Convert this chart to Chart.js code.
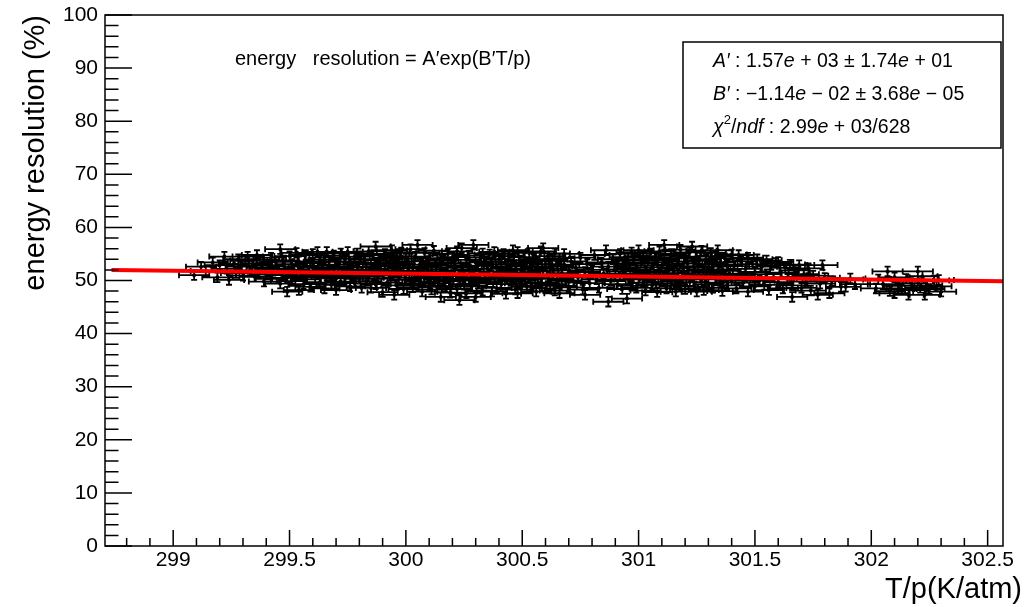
<!DOCTYPE html>
<html>
<head>
<meta charset="utf-8">
<script src="https://cdn.jsdelivr.net/npm/chart.js@4.4.1/dist/chart.umd.min.js"></script>
<style>
  html, body { margin: 0; padding: 0; background: #fff; }
  #wrap { width: 1030px; height: 607px; }
</style>
</head>
<body>
<div id="wrap"><canvas id="chart" width="1030" height="607"></canvas></div>
<script>
// measured points: [T/p (K/atm), energy resolution (%)]
const points = [
  [299.09,51.0],[299.12,52.6],[299.17,53.4],[299.19,50.6],[299.14,51.8],[299.2,52.9],
  [299.22,54.5],[299.24,50.1],[299.23,52.2],[299.26,53.1],[299.27,51.4],[299.28,54.0],[299.29,52.6],[299.3,50.9],
  [299.31,53.7],[299.32,54.5],[299.33,51.9],[299.34,52.8],[299.35,50.7],[299.36,54.8],[299.36,53.2],[299.37,51.5],
  [299.38,52.4],[299.39,49.8],[299.39,53.9],[299.4,51.1],[299.41,52.9],[299.42,54.3],[299.42,50.3],[299.43,51.8],[299.44,53.5],
  [299.45,52.2],[299.46,55.9],[299.46,49.4],[299.47,51.0],[299.47,53.8],[299.48,52.6],[299.49,47.9],[299.49,50.5],
  [299.5,54.6],[299.5,51.6],[299.51,53.1],[299.51,49.9],[299.52,52.0],[299.53,55.2],[299.53,50.8],[299.54,48.2],
  [299.54,53.6],[299.55,51.3],[299.56,52.7],[299.56,49.3],[299.57,54.8],[299.57,50.2],[299.58,51.9],[299.59,53.3],
  [299.59,48.8],[299.6,52.4],[299.6,55.0],[299.61,50.6],[299.62,55.4],[299.62,51.2],[299.63,53.9],[299.63,49.6],
  [299.64,52.8],[299.65,48.5],[299.65,54.3],[299.66,55.4],[299.66,50.9],[299.67,52.1],[299.67,53.5],[299.68,49.2],
  [299.69,51.7],[299.69,54.7],[299.7,48.2],[299.7,50.4],[299.71,53.0],[299.71,52.3],[299.72,55.1],[299.72,49.8],
  [299.73,51.4],[299.74,54.1],[299.74,50.7],[299.75,55.4],[299.75,52.6],[299.76,48.9],[299.76,53.6],[299.77,51.0],
  [299.78,49.5],[299.78,54.5],[299.79,55.1],[299.79,52.0],[299.8,50.3],[299.8,53.3],
  [299.81,51.6],[299.81,48.6],[299.82,54.0],[299.83,52.5],[299.83,49.9],[299.84,55.5],[299.84,50.8],[299.85,48.6],
  [299.85,53.1],[299.86,51.9],[299.86,54.8],[299.87,56.4],[299.87,49.3],[299.88,52.7],[299.88,50.4],[299.89,53.8],
  [299.9,51.2],[299.9,47.8],[299.91,55.0],[299.91,52.2],[299.92,49.6],[299.92,54.3],[299.93,50.9],[299.93,53.4],
  [299.94,55.7],[299.95,47.3],[299.95,51.7],[299.95,52.9],[299.96,49.1],[299.96,54.6],[299.97,50.5],[299.97,53.1],
  [299.98,51.4],[299.98,55.3],[299.99,48.4],[299.99,52.5],[300.0,54.1],[300.0,50.1],[300.01,51.8],[300.01,53.6],
  [300.02,49.4],[300.02,55.9],[300.03,52.3],[300.03,48.7],[300.04,50.9],[300.04,54.5],[300.05,56.7],[300.05,51.5],
  [300.06,53.0],[300.06,49.8],[300.07,52.6],[300.07,47.9],[300.08,55.2],[300.08,50.4],[300.09,53.7],[300.09,51.1],
  [300.1,49.1],[300.1,54.2],[300.11,52.0],[300.11,48.3],[300.12,50.7],[300.12,55.6],[300.13,53.3],[300.13,51.6],
  [300.14,49.5],[300.15,46.9],[300.15,54.0],[300.15,52.4],[300.16,50.2],[300.16,53.8],[300.17,48.8],[300.17,51.3],
  [300.18,55.0],[300.18,52.8],[300.19,49.9],[300.19,47.7],[300.2,54.4],[300.2,50.8],[300.21,51.9],[300.21,53.2],
  [300.22,48.4],[300.22,55.5],[300.23,46.3],[300.23,50.3],[300.24,56.1],[300.24,52.5],[300.25,51.0],[300.25,49.2],
  [300.26,53.9],[300.26,47.6],[300.27,52.1],[300.27,54.7],[300.28,50.6],[300.28,48.9],[300.29,56.7],[300.29,51.7],
  [300.3,46.9],[300.3,53.4],[300.3,50.0],
  [300.31,52.8],[300.31,49.4],[300.32,54.3],[300.32,51.3],[300.33,48.1],[300.33,55.1],[300.34,50.6],[300.34,53.6],
  [300.35,52.2],[300.35,49.7],[300.36,54.9],[300.36,51.0],[300.37,47.9],[300.37,53.1],[300.38,50.3],[300.38,55.4],
  [300.39,52.6],[300.39,48.6],[300.4,51.7],[300.4,54.0],[300.41,49.3],[300.41,53.5],[300.42,50.9],[300.42,55.0],
  [300.43,52.3],[300.43,47.5],[300.44,51.4],[300.44,54.6],[300.45,49.9],[300.45,53.0],[300.46,50.5],[300.46,55.7],
  [300.47,48.3],[300.47,52.0],[300.48,55.4],[300.48,47.6],[300.48,51.2],[300.49,53.8],[300.49,49.5],[300.5,52.7],
  [300.5,50.2],[300.51,54.4],[300.51,51.5],[300.52,48.8],[300.52,53.3],[300.53,50.7],[300.53,55.2],[300.54,52.1],
  [300.54,49.1],[300.55,54.0],[300.55,51.0],[300.56,47.9],[300.56,53.6],[300.57,50.4],[300.57,52.5],[300.58,55.5],
  [300.58,49.6],[300.59,56.1],[300.59,51.8],[300.6,48.5],[300.6,53.1],[300.61,50.8],[300.61,54.6],[300.62,52.3],
  [300.62,49.3],[300.63,51.1],[300.63,53.9],[300.64,48.1],[300.64,55.1],[300.65,50.3],[300.65,52.7],[300.66,47.6],
  [300.66,54.2],[300.67,51.4],[300.67,49.0],[300.68,55.0],[300.68,53.0],[300.69,50.0],[300.7,51.9],[300.7,48.7],
  [300.71,53.6],[300.72,49.8],[300.73,52.4],[300.74,50.6],[300.75,54.3],[300.76,48.3],[300.77,47.3],[300.77,51.6],
  [300.78,53.1],[300.79,49.5],[300.8,52.0],[300.81,54.8],[300.82,50.2],[300.83,48.6],[300.84,53.4],[300.85,51.3],
  [300.86,55.7],[300.87,46.0],[300.87,52.6],[300.88,49.9],[300.89,54.0],[300.9,51.0],
  [300.91,53.2],[300.91,49.3],[300.92,55.0],[300.92,50.8],[300.93,52.1],[300.93,48.4],[300.94,54.4],[300.94,51.7],
  [300.95,46.6],[300.95,53.7],[300.96,50.2],[300.96,52.8],[300.97,55.3],[300.97,49.0],[300.98,51.3],[300.98,54.0],
  [300.99,48.6],[300.99,52.4],[301.0,55.7],[301.0,50.5],[301.01,53.3],[301.01,51.0],[301.02,49.6],[301.02,54.6],
  [301.03,52.0],[301.03,48.1],[301.04,53.8],[301.04,50.9],[301.05,55.1],[301.05,51.6],[301.06,49.2],[301.06,52.9],
  [301.07,54.3],[301.07,50.3],[301.08,47.8],[301.08,53.4],[301.09,51.2],[301.09,55.5],[301.1,52.5],[301.1,49.8],
  [301.11,56.7],[301.11,54.0],[301.12,50.7],[301.12,48.5],[301.13,53.0],[301.13,51.9],[301.14,55.0],[301.14,49.4],
  [301.15,52.3],[301.15,54.7],[301.16,50.1],[301.16,47.9],[301.17,53.6],[301.17,51.4],[301.18,55.8],[301.18,49.0],
  [301.19,52.7],[301.19,50.6],[301.2,54.2],[301.2,48.4],[301.21,51.8],[301.21,53.2],[301.22,49.7],[301.22,55.3],
  [301.23,56.4],[301.23,50.9],[301.24,52.4],[301.24,48.9],[301.25,47.9],[301.25,54.5],[301.26,51.1],[301.26,53.7],
  [301.27,50.2],[301.27,55.6],[301.28,52.0],[301.28,48.2],[301.29,54.0],[301.29,50.7],[301.3,53.1],[301.3,49.3],
  [301.31,51.5],[301.31,55.2],[301.32,48.6],[301.32,52.6],[301.33,54.6],[301.33,50.4],[301.34,55.7],[301.34,51.8],
  [301.35,49.6],[301.35,53.4],[301.36,52.1],[301.36,48.0],[301.37,54.2],[301.37,50.8],[301.38,53.0],[301.38,49.1],
  [301.39,51.3],[301.4,54.9],[301.4,50.0],
  [301.41,52.7],[301.42,48.5],[301.43,54.8],[301.43,51.0],[301.44,53.6],[301.45,49.6],[301.46,52.2],[301.47,47.9],
  [301.47,54.3],[301.48,50.5],[301.49,53.1],[301.5,51.6],[301.5,48.9],[301.51,54.0],[301.52,50.0],[301.53,52.6],
  [301.54,49.2],[301.55,53.8],[301.55,51.2],[301.56,48.2],[301.57,52.9],[301.58,50.6],[301.59,53.3],[301.6,53.5],
  [301.6,49.7],[301.61,51.5],[301.62,48.5],[301.63,52.4],[301.64,50.3],[301.65,53.0],[301.66,46.9],[301.66,49.1],
  [301.67,51.9],[301.68,50.7],[301.69,52.9],[301.7,48.6],[301.71,51.2],[301.72,49.8],[301.73,52.3],[301.74,48.1],
  [301.75,50.9],[301.77,47.3],[301.78,49.4],[301.79,52.9],[301.8,50.5],[301.82,47.6],[301.83,49.9],
  [301.87,48.8],[301.89,48.8],[301.91,50.4],[301.93,49.3],
  [302.02,48.5],[302.03,50.2],[302.05,49.3],[302.07,51.7],[302.08,48.0],[302.1,47.6],[302.1,50.6],[302.12,49.0],
  [302.13,48.4],[302.15,50.3],[302.16,47.3],[302.17,49.5],[302.18,48.2],[302.2,51.7],[302.2,49.9],[302.21,48.6],
  [302.22,50.8],[302.23,47.3],[302.24,49.1],[302.25,48.4],[302.27,50.0],[302.28,48.9],[302.3,47.9],[302.29,50.1]
];
const xErr = 0.065;
const yErr = 0.9;

// fitted curve
const fitCurve = [[298.735, 52.0], [300.5, 51.05], [302.566, 49.85]];

const xRange = [298.707, 302.566];
const yRange = [0, 100];

const formulaText = 'energy   resolution = A\u2032exp(B\u2032T/p)';
const statLines = [
  [['A\u2032', 'i'], [' : 1.57', ''], ['e', 'i'], [' + 03 \u00b1 1.74', ''], ['e', 'i'], [' + 01', '']],
  [['B\u2032', 'i'], [' : \u22121.14', ''], ['e', 'i'], [' \u2212 02 \u00b1 3.68', ''], ['e', 'i'], [' \u2212 05', '']],
  [['\u03c7', 'i'], ['2', 'sup'], ['/', ''], ['ndf', 'i'], [' : 2.99', ''], ['e', 'i'], [' + 03/628', '']]
];

const FONT = '"Liberation Sans", Arial, Helvetica, sans-serif';

const errorBars = {
  id: 'errorBars',
  beforeDatasetsDraw(chart) {
    const { ctx, scales: { x, y } } = chart;
    ctx.save();
    ctx.strokeStyle = '#000';
    ctx.lineWidth = 1.8;
    ctx.beginPath();
    for (const [tp, res] of points) {
      const px = x.getPixelForValue(tp);
      const py = y.getPixelForValue(res);
      const l = x.getPixelForValue(tp - xErr);
      const r = x.getPixelForValue(tp + xErr);
      const t = y.getPixelForValue(res + yErr);
      const b = y.getPixelForValue(res - yErr);
      ctx.moveTo(l, py); ctx.lineTo(r, py);
      ctx.moveTo(px, t); ctx.lineTo(px, b);
      ctx.moveTo(l, py - 3); ctx.lineTo(l, py + 3);
      ctx.moveTo(r, py - 3); ctx.lineTo(r, py + 3);
      ctx.moveTo(px - 3, t); ctx.lineTo(px + 3, t);
      ctx.moveTo(px - 3, b); ctx.lineTo(px + 3, b);
    }
    ctx.stroke();
    ctx.restore();
  }
};

// ROOT-like frame, inner ticks, titles and stat box
const rootFrame = {
  id: 'rootFrame',
  afterDraw(chart) {
    const { ctx, chartArea: a, scales: { x, y } } = chart;
    ctx.save();
    ctx.strokeStyle = '#000';
    ctx.fillStyle = '#000';
    ctx.lineWidth = 1.5;
    ctx.strokeRect(a.left, a.top, a.right - a.left, a.bottom - a.top);

    ctx.beginPath();
    for (let i = 2988; i <= 3025; i++) {
      const px = x.getPixelForValue(i / 10);
      const len = i % 5 === 0 ? 16 : 8;
      ctx.moveTo(px, a.bottom); ctx.lineTo(px, a.bottom - len);
    }
    for (let v = 0; v <= 100; v += 2) {
      const py = y.getPixelForValue(v);
      const len = v % 10 === 0 ? 27 : 13.5;
      ctx.moveTo(a.left, py); ctx.lineTo(a.left + len, py);
    }
    ctx.stroke();

    // axis titles
    ctx.font = '29px ' + FONT;
    ctx.textBaseline = 'alphabetic';
    ctx.textAlign = 'right';
    ctx.fillText('T/p(K/atm)', 1022, 598);
    ctx.save();
    ctx.translate(44, a.top);
    ctx.rotate(-Math.PI / 2);
    ctx.fillText('energy resolution (%)', 0, 0);
    ctx.restore();

    // formula
    ctx.textAlign = 'left';
    ctx.font = '20px ' + FONT;
    ctx.fillText(formulaText, 235, 65);

    // stat box
    ctx.fillStyle = '#fff';
    ctx.fillRect(683, 42, 318, 106);
    ctx.lineWidth = 1.5;
    ctx.strokeRect(683, 42, 318, 106);
    ctx.fillStyle = '#000';
    statLines.forEach((segs, row) => {
      let cx = 713;
      const base = 67 + row * 33;
      for (const [txt, st] of segs) {
        if (st === 'sup') {
          ctx.font = '13px ' + FONT;
          ctx.fillText(txt, cx, base - 9);
        } else {
          ctx.font = (st === 'i' ? 'italic ' : '') + '19.5px ' + FONT;
          ctx.fillText(txt, cx, base);
        }
        cx += ctx.measureText(txt).width;
      }
    });
    ctx.restore();
  }
};

new Chart(document.getElementById('chart'), {
  type: 'scatter',
  data: {
    datasets: [
      {
        label: 'fit',
        data: fitCurve.map(([x, y]) => ({ x, y })),
        showLine: true,
        borderColor: '#ff0000',
        borderWidth: 4,
        pointRadius: 0,
        order: 0
      },
      {
        label: 'data',
        data: points.map(([x, y]) => ({ x, y })),
        backgroundColor: '#000',
        borderColor: '#000',
        pointRadius: 2,
        borderWidth: 0,
        order: 1
      }
    ]
  },
  options: {
    responsive: false,
    animation: false,
    devicePixelRatio: 1,
    events: [],
    layout: { padding: { left: 0, top: 15, right: 27, bottom: 0 } },
    plugins: { legend: { display: false }, tooltip: { enabled: false } },
    scales: {
      x: {
        type: 'linear',
        min: xRange[0],
        max: xRange[1],
        grid: { display: false, drawTicks: false },
        border: { display: false },
        ticks: {
          stepSize: 0.5,
          includeBounds: false,
          padding: 2,
          color: '#000',
          font: { family: FONT, size: 21 },
          callback: v => String(v)
        },
        afterFit: s => { s.height = 61; s.paddingLeft = 0; s.paddingRight = 0; }
      },
      y: {
        min: yRange[0],
        max: yRange[1],
        grid: { display: false, drawTicks: false },
        border: { display: false },
        ticks: {
          stepSize: 10,
          padding: 7,
          color: '#000',
          font: { family: FONT, size: 21 }
        },
        afterFit: s => { s.width = 105; s.paddingTop = 0; s.paddingBottom = 0; }
      }
    }
  },
  plugins: [errorBars, rootFrame]
});
</script>
</body>
</html>
